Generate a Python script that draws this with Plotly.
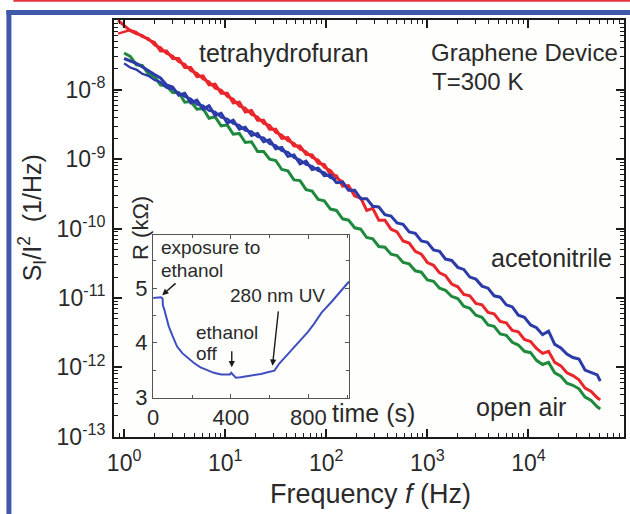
import numpy as np
import plotly.graph_objects as go

# ---------------- data ----------------
freq_hz = [0.87, 1.0, 1.15, 1.32, 1.51, 1.74, 2.0, 2.29, 2.63, 3.02, 3.47, 3.98, 4.57, 5.25, 6.03, 6.92, 7.94, 9.12,
           10.5, 12.0, 13.8, 15.8, 18.2, 20.9, 24.0, 27.5, 31.6, 36.3, 41.7, 47.9, 55.0, 63.1, 72.4, 83.2, 95.5,
           110, 126, 145, 166, 191, 219, 251, 288, 331, 380, 437, 501, 575, 661, 759, 871, 1000,
           1150, 1320, 1510, 1740, 2000, 2290, 2630, 3020, 3470, 3980, 4570, 5250, 6030, 6920, 7940, 9120,
           10500, 12000, 13800, 15800, 18200, 20900, 24000, 27500, 31600, 36300, 41700, 47900, 51300]

# log10 of S_I/I^2 (1/Hz)
open_air_log = [None, -7.47, -7.52, -7.64, -7.65, -7.77, -7.81, -7.93, -7.95, -8.04, -8.04, -8.18, -8.17, -8.28, -8.27, -8.41, -8.39, -8.52,
                -8.51, -8.64, -8.63, -8.76, -8.75, -8.89, -8.89, -9.00, -9.02, -9.15, -9.17, -9.30, -9.31, -9.44, -9.46, -9.58, -9.60,
                -9.72, -9.74, -9.86, -9.88, -9.99, -10.01, -10.13, -10.15, -10.26, -10.27, -10.37, -10.39, -10.49, -10.51, -10.61, -10.63, -10.74,
                -10.76, -10.86, -10.89, -10.98, -11.01, -11.12, -11.15, -11.25, -11.28, -11.39, -11.41, -11.52, -11.54, -11.64, -11.68, -11.77,
                -11.79, -11.90, -11.96, -11.93, -12.08, -12.13, -12.23, -12.26, -12.31, -12.43, -12.48, -12.57, -12.60]

thf_log_a = [-7.00, -7.08, -7.15, -7.19, -7.22, -7.28, -7.32, -7.44, -7.44, -7.55, -7.55, -7.68, -7.68, -7.81, -7.80, -7.93, -7.92, -8.05,
             -8.05, -8.19, -8.18, -8.32, -8.30, -8.44, -8.44, -8.57, -8.57, -8.70, -8.69, -8.81, -8.81, -8.93, -8.94, -9.06, -9.08,
             -9.22, -9.24, -9.39, -9.38, -9.53, -9.56, -9.74, -9.71, -9.88, -9.88, -10.01, -10.05, -10.18, -10.21, -10.33, -10.37, -10.49,
             -10.53, -10.64, -10.68, -10.80, -10.84, -10.95, -10.97, -11.08, -11.10, -11.21, -11.23, -11.34, -11.36, -11.47, -11.49, -11.60,
             -11.63, -11.73, -11.80, -11.77, -11.93, -11.98, -12.08, -12.12, -12.18, -12.30, -12.35, -12.44, -12.47]

thf_log_b = [-7.19, -7.17, -7.14, -7.17, -7.24, -7.26, -7.36, -7.39, -7.48, -7.51, -7.60, -7.63, -7.73, -7.76, -7.85, -7.88, -7.98, -8.00,
             -8.10, -8.13, -8.24, -8.26, -8.36, -8.39, -8.49, -8.51, -8.62, -8.65, -8.74, -8.77, -8.86, -8.89, -8.98, -9.01, -9.12,
             -9.16, -9.27, -9.32, -9.44, -9.48]

acn_log_a = [None, -7.55, -7.58, -7.62, -7.67, -7.72, -7.78, -7.83, -7.93, -7.96, -8.08, -8.05, -8.19, -8.15, -8.28, -8.23, -8.37, -8.34,
             -8.48, -8.44, -8.57, -8.54, -8.66, -8.63, -8.75, -8.72, -8.85, -8.83, -8.96, -8.94, -9.07, -9.03, -9.15, -9.13, -9.24,
             -9.23, -9.34, -9.33, -9.45, -9.45, -9.57, -9.57, -9.68, -9.69, -9.80, -9.82, -9.92, -9.94, -10.05, -10.07, -10.18, -10.20,
             -10.31, -10.33, -10.44, -10.46, -10.56, -10.59, -10.70, -10.73, -10.83, -10.86, -10.97, -10.99, -11.10, -11.13, -11.25, -11.28,
             -11.39, -11.43, -11.53, -11.48, -11.67, -11.72, -11.81, -11.86, -11.88, -12.04, -12.08, -12.11, -12.20]

acn_log_b = [-7.62, -7.68, -7.71, -7.77, -7.80, -7.86, -7.89, -7.97, -7.99, -8.04, -8.10, -8.13, -8.21, -8.23, -8.30, -8.32, -8.40,
             -8.42, -8.49, -8.51, -8.59, -8.60, -8.68, -8.69, -8.78, -8.80, -8.88, -8.90, -8.98, -9.01, -9.08, -9.10, -9.17, -9.19,
             -9.27, -9.29]

# inset: resistance vs time
inset_time_s = [0, 20, 40, 48, 50, 56, 65, 80, 100, 123, 150, 175, 210, 244, 280, 313, 350, 383, 395, 402, 410, 426, 450, 487,
                520, 556, 590, 625, 650, 690, 729, 760, 798, 830, 868, 920, 971, 1010]
inset_R_kohm = [4.82, 4.83, 4.83, 4.81, 4.68, 4.62, 4.50, 4.30, 4.12, 3.93, 3.81, 3.73, 3.63, 3.55, 3.49, 3.45, 3.42, 3.41, 3.42, 3.45,
                3.42, 3.36, 3.37, 3.39, 3.41, 3.43, 3.46, 3.49, 3.62, 3.78, 3.93, 4.05, 4.20, 4.35, 4.55, 4.75, 4.95, 5.12]

x_tick_vals = [1, 10, 100, 1000, 10000]
x_tick_text = ["10<sup>0</sup>", "10<sup>1</sup>", "10<sup>2</sup>", "10<sup>3</sup>", "10<sup>4</sup>"]
y_tick_vals = [1e-13, 1e-12, 1e-11, 1e-10, 1e-9, 1e-8]
y_tick_text = ["10<sup>-13</sup>", "10<sup>-12</sup>", "10<sup>-11</sup>", "10<sup>-10</sup>", "10<sup>-9</sup>", "10<sup>-8</sup>"]

# ---------------- geometry ----------------
W, H = 630, 514
ML, MR, MT, MB = 114, 4, 20, 77
PW, PH = W - ML - MR, H - MT - MB


def px(xp):
    return (xp - ML) / PW


def py(yp):
    return (H - MB - yp) / PH


FONT = "Liberation Sans, Arial, sans-serif"
TXT = "#2a2a2a"
RED, BLUE, GREEN, INSET_BLUE = "#e8262b", "#2b3ba8", "#1f8a3d", "#3e4fc0"

f = np.array(freq_hz, dtype=float)


def lin(vals):
    return [None if v is None else 10 ** v for v in vals]


fig = go.Figure()
fig.add_trace(go.Scatter(x=f, y=lin(open_air_log), mode="lines", line=dict(color=GREEN, width=3), showlegend=False))
fig.add_trace(go.Scatter(x=f, y=lin(thf_log_a), mode="lines", line=dict(color=RED, width=3), showlegend=False))
fig.add_trace(go.Scatter(x=f[:len(thf_log_b)], y=lin(thf_log_b), mode="lines", line=dict(color=RED, width=2.4), showlegend=False))
fig.add_trace(go.Scatter(x=f, y=lin(acn_log_a), mode="lines", line=dict(color=BLUE, width=3), showlegend=False))
fig.add_trace(go.Scatter(x=f[1:1 + len(acn_log_b)], y=lin(acn_log_b), mode="lines", line=dict(color=BLUE, width=2.4), showlegend=False))
fig.add_trace(go.Scatter(x=inset_time_s, y=inset_R_kohm, mode="lines", line=dict(color=INSET_BLUE, width=2),
                         xaxis="x2", yaxis="y2", showlegend=False))

x_minor = [m * 10 ** d for d in range(-1, 5) for m in range(2, 10)]
y_minor = [m * 10.0 ** d for d in range(-14, -6) for m in range(2, 10)]

axis_common = dict(showgrid=False, zeroline=False, showline=True, linecolor="#1a1a1a", linewidth=2,
                   mirror="ticks", ticks="inside", ticklen=8, tickwidth=1.6, tickcolor="#1a1a1a",
                   tickfont=dict(family=FONT, size=23, color=TXT))

fig.update_layout(
    width=W, height=H,
    margin=dict(l=ML, r=MR, t=MT, b=MB),
    paper_bgcolor="white", plot_bgcolor="#fefefc",
    font=dict(family=FONT, color=TXT),
    xaxis=dict(type="log", range=[-0.1, 4.945], tickmode="array", tickvals=x_tick_vals, ticktext=x_tick_text,
               minor=dict(tickmode="array", tickvals=x_minor, ticks="inside", ticklen=4, tickwidth=1.3, tickcolor="#1a1a1a"),
               ticklabelstandoff=4, **axis_common),
    yaxis=dict(type="log", range=[-13.005, -6.995], tickmode="array", tickvals=y_tick_vals, ticktext=y_tick_text,
               minor=dict(tickmode="array", tickvals=y_minor, ticks="inside", ticklen=4, tickwidth=1.3, tickcolor="#1a1a1a"),
               ticklabelstandoff=2, **axis_common),
    xaxis2=dict(domain=[px(153), px(350)], anchor="y2", range=[-2, 1010], tickmode="array", tickvals=[0, 400, 800],
                minor=dict(tickmode="array", tickvals=[200, 600, 1000], ticks="inside", ticklen=3, tickcolor="#555"),
                showgrid=False, zeroline=False, showline=True, linecolor="#555", linewidth=1, mirror="ticks",
                ticks="inside", ticklen=4, tickcolor="#555", ticklabelstandoff=0,
                tickfont=dict(family=FONT, size=22, color=TXT)),
    yaxis2=dict(domain=[py(398), py(235)], anchor="x2", range=[2.99, 5.97], tickmode="array", tickvals=[3, 4, 5],
                minor=dict(tickmode="array", tickvals=[3.5, 4.5, 5.5], ticks="inside", ticklen=3, tickcolor="#555"),
                showgrid=False, zeroline=False, showline=True, linecolor="#555", linewidth=1, mirror="ticks",
                ticks="inside", ticklen=4, tickcolor="#555", ticklabelstandoff=0,
                tickfont=dict(family=FONT, size=22, color=TXT)),
)

# decorative frame (journal figure border)
fig.add_shape(type="rect", xref="paper", yref="paper", x0=px(6), x1=px(632), y0=py(15), y1=py(10),
              fillcolor="#3f58a8", line_width=0, layer="above")
fig.add_shape(type="rect", xref="paper", yref="paper", x0=px(6), x1=px(11), y0=py(516), y1=py(10),
              fillcolor="#3f58a8", line_width=0, layer="above")
fig.add_shape(type="rect", xref="paper", yref="paper", x0=px(13), x1=px(632), y0=py(1.8), y1=py(-1),
              fillcolor="#e8303a", line_width=0, layer="above")


def label(text, xp, yp, size, xanchor="left", angle=0):
    fig.add_annotation(text=text, xref="paper", yref="paper", x=px(xp), y=py(yp), xanchor=xanchor,
                       yanchor="middle", showarrow=False, textangle=angle,
                       font=dict(family=FONT, size=size, color=TXT))


label("tetrahydrofuran", 197, 53, 25)
label("Graphene Device", 430, 53, 24)
label("T=300 K", 431, 82, 24)
label("acetonitrile", 490, 258, 25)
label("open air", 475, 407, 25)
label("Frequency <i>f</i> (Hz)", 372, 494, 27, xanchor="center")
label("S<sub>I</sub>/I<sup>2</sup>\u00a0 (1/Hz)", 32, 218, 25, xanchor="center", angle=-90)
label("R (k\u03a9)", 140, 228, 22, xanchor="center", angle=-90)
label("time (s)", 331, 413, 25)
label("exposure to", 159, 248, 19)
label("ethanol", 159, 270, 19)
label("ethanol", 194, 332, 19)
label("off", 194, 353, 19)
label("280 nm UV", 228, 295, 19)


def arrow(x_head, y_head, x_tail, y_tail):
    fig.add_annotation(text="", xref="x2", yref="y2", axref="x2", ayref="y2",
                       x=x_head, y=y_head, ax=x_tail, ay=y_tail, showarrow=True,
                       arrowhead=2, arrowsize=0.9, arrowwidth=1.4, arrowcolor="#1a1a1a")


arrow(46, 4.87, 123, 5.11)
arrow(405, 3.55, 405, 3.87)
arrow(615, 3.58, 646, 4.60)

fig.write_html("out.html")
